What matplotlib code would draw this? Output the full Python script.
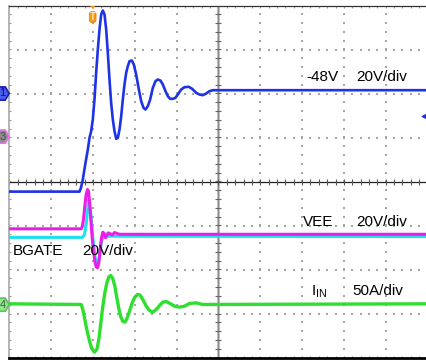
import numpy as np
import matplotlib.pyplot as plt
from matplotlib.patches import Polygon, FancyBboxPatch

plt.rcParams['font.family'] = ['Liberation Sans', 'DejaVu Sans']

# screen is 10 x 8 divisions, y = 0 on the centre line
# CH1 (-48V rail)
ch1_t = [0, 1.675, 1.711, 1.754, 1.818, 1.874, 1.914, 1.954, 1.993, 2.033, 2.073, 2.113,
         2.153, 2.193, 2.233, 2.273, 2.313, 2.352, 2.392, 2.432, 2.472, 2.512, 2.552,
         2.592, 2.632, 2.672, 2.711, 2.751, 2.791, 2.831, 2.871, 2.926, 2.974, 3.030,
         3.094, 3.150, 3.206, 3.254, 3.309, 3.365, 3.429, 3.493, 3.549, 3.612, 3.668,
         3.732, 3.788, 3.844, 3.907, 3.971, 4.027, 4.107, 4.187, 4.290, 4.370, 4.466,
         4.545, 4.625, 4.705, 4.785, 4.864, 4.984, 10]
ch1_v = [-0.23, -0.23, -0.14, 0.045, 0.424, 0.727, 0.992, 1.144, 1.409, 1.864, 2.470, 3.000,
         3.455, 3.795, 3.886, 3.795, 3.455, 2.924, 2.318, 1.788, 1.409, 1.144, 0.970,
         0.992, 1.182, 1.485, 1.864, 2.205, 2.470, 2.621, 2.735, 2.750, 2.659, 2.432,
         2.091, 1.826, 1.674, 1.636, 1.712, 1.864, 2.129, 2.280, 2.318, 2.295, 2.205,
         2.053, 1.939, 1.879, 1.879, 1.902, 1.977, 2.091, 2.144, 2.152, 2.106, 2.015,
         1.977, 1.962, 2.000, 2.053, 2.075, 2.075, 2.075]

# BGATE
ch2_t = [0, 1.746, 1.794, 1.834, 1.866, 1.898, 1.930, 1.962, 1.994, 2.033, 2.073, 2.113,
         2.153, 2.201, 2.249, 10]
ch2_v = [-1.27, -1.27, -1.205, -0.977, -0.674, -0.409, -0.598, -0.939, -1.280, -1.621,
         -1.886, -1.924, -1.697, -1.356, -1.243, -1.25]

# VEE
ch3_t = [0, 1.715, 1.739, 1.770, 1.802, 1.834, 1.866, 1.890, 1.914, 1.946, 1.978, 2.010,
         2.042, 2.073, 2.105, 2.137, 2.169, 2.201, 2.233, 2.265, 2.297, 2.329, 2.360,
         2.409, 2.460, 2.512, 2.630, 10]
ch3_v = [-1.075, -1.075, -1.030, -0.864, -0.561, -0.295, -0.182, -0.220, -0.447, -0.864,
         -1.280, -1.583, -1.811, -1.940, -1.960, -1.848, -1.545, -1.280, -1.152, -1.182,
         -1.280, -1.227, -1.167, -1.189, -1.215, -1.160, -1.20, -1.20]

# IIN
ch4_t = [0, 1.715, 1.754, 1.794, 1.850, 1.914, 1.970, 2.033, 2.089, 2.137, 2.185, 2.233,
         2.281, 2.329, 2.376, 2.424, 2.472, 2.520, 2.568, 2.616, 2.663, 2.711, 2.759,
         2.807, 2.871, 2.935, 2.998, 3.062, 3.126, 3.190, 3.270, 3.349, 3.429, 3.509,
         3.589, 3.668, 3.748, 3.844, 3.947, 4.067, 4.187, 4.306, 4.466, 4.625, 10]
ch4_v = [-2.78, -2.795, -2.909, -3.098, -3.364, -3.629, -3.803, -3.879, -3.818, -3.591,
         -3.212, -2.833, -2.530, -2.303, -2.167, -2.136, -2.212, -2.379, -2.644, -2.894,
         -3.076, -3.174, -3.197, -3.121, -2.947, -2.758, -2.629, -2.568, -2.583, -2.682,
         -2.833, -2.932, -2.970, -2.909, -2.818, -2.742, -2.727, -2.773, -2.833, -2.856,
         -2.833, -2.773, -2.758, -2.795, -2.78]

# ground reference markers on the left edge
ref_levels = {'1': 2.0, '3': 1.02, '4': -2.80}
trig_pos = 1.99
trig_level = 1.48

fig = plt.figure(figsize=(4.27, 3.6), dpi=100)
ax = fig.add_axes([9.5 / 427, 2.5 / 360, 418 / 427, 352 / 360])
ax.set_xlim(0, 10)
ax.set_ylim(-4, 4)
ax.set_xticks([])
ax.set_yticks([])
ax.spines['right'].set_visible(False)
ax.spines['left'].set_color('#a8a8a8')
ax.spines['left'].set_linewidth(1.2)
ax.spines['top'].set_color('#333333')
ax.spines['top'].set_linewidth(0.9)
ax.spines['bottom'].set_color('black')
ax.spines['bottom'].set_linewidth(2)

# dotted graticule
sub = np.arange(0, 10.01, 0.2)
subv = np.arange(-4, 4.01, 0.2)
for gx in range(1, 10):
    if gx == 5:
        continue
    ax.scatter(np.full(len(subv), gx), subv, s=1.0, color='#a6a6a6', marker='s', lw=0, zorder=1)
for gy in range(-3, 4):
    if gy == 0:
        continue
    ax.scatter(sub, np.full(len(sub), gy), s=1.0, color='#a6a6a6', marker='s', lw=0, zorder=1)

# centre axes with minor ticks
ax.axvline(5, color='#c0c0c0', lw=2.2, zorder=1)
ax.axvline(5, color='#808080', lw=0.6, zorder=1)
ax.axhline(0, color='#222222', lw=0.9, zorder=1)
ax.scatter(np.full(len(subv), 5), subv, marker='_', s=22, color='#666666', lw=0.8, zorder=1)
ax.scatter(sub, np.zeros(len(sub)), marker='|', s=22, color='#555555', lw=0.8, zorder=1)
# ticks along the edges
ax.scatter(np.zeros(len(subv)), subv, marker='_', s=10, color='#999999', lw=0.8, zorder=1)
ax.scatter(sub, np.full(len(sub), -4), marker='|', s=10, color='#999999', lw=0.8, zorder=1)
ax.scatter(sub, np.full(len(sub), 4), marker='|', s=10, color='#999999', lw=0.8, zorder=1)

# traces
ax.plot(ch1_t, ch1_v, color='#1e32e6', lw=1.9, zorder=3)
ax.plot(ch2_t, ch2_v, color='#20e0ea', lw=2.2, zorder=3)
ax.plot(ch3_t, ch3_v, color='#ea1eea', lw=2.2, zorder=4)
ax.plot(ch4_t, ch4_v, color='#2ee02e', lw=2.4, zorder=3)

# channel labels
fs = 11
ax.text(7.11, 2.28, '-48V', fontsize=fs, va='baseline')
ax.text(8.30, 2.28, '20V/div', fontsize=fs, va='baseline')
ax.text(7.01, -1.02, 'VEE', fontsize=fs, va='baseline')
ax.text(8.30, -1.02, '20V/div', fontsize=fs, va='baseline')
ax.text(7.22, -2.59, r'$\mathregular{I_{IN}}$', fontsize=fs, va='baseline')
ax.text(8.21, -2.59, '50A/div', fontsize=fs, va='baseline')
ax.text(0.07, -1.66, 'BGATE', fontsize=fs, va='baseline', zorder=5)
ax.text(1.75, -1.66, '20V/div', fontsize=fs, va='baseline', zorder=5)

# left edge reference tags
tag_style = {'1': ('#4a5cf0', '#1a1ab0', '#101060'),
             '3': ('#8c8c8c', '#f070f0', '#505050'),
             '4': ('#8ee88e', '#60c060', '#406040')}
for name, lvl in ref_levels.items():
    face, edge, txt = tag_style[name]
    h = 0.15
    pts = [(-0.32, lvl + h), (-0.1, lvl + h), (-0.01, lvl), (-0.1, lvl - h), (-0.32, lvl - h)]
    ax.add_patch(Polygon(pts, closed=True, facecolor=face, edgecolor=edge, lw=1.2,
                         clip_on=False, zorder=6))
    ax.text(-0.17, lvl, name, fontsize=8, ha='center', va='center', color=txt,
            clip_on=False, zorder=7)

# trigger position marker
ax.add_patch(Polygon([(trig_pos - 0.07, 4.0), (trig_pos + 0.07, 4.0), (trig_pos, 3.92)],
                     closed=True, facecolor='#f59a1a', edgecolor='none', zorder=6))
ax.add_patch(FancyBboxPatch((trig_pos - 0.08, 3.62), 0.16, 0.24,
                            boxstyle='round,pad=0.0,rounding_size=0.05',
                            facecolor='#f59a1a', edgecolor='#e08010', lw=0.6, zorder=6))
ax.text(trig_pos, 3.74, 'T', fontsize=7, ha='center', va='center', color='#ffe2b0',
        fontweight='bold', zorder=7)

# trigger level arrow on the right edge
ax.scatter([9.94], [trig_level], marker='<', s=22, color='#2030e0', zorder=6, clip_on=False)

fig.savefig('out.png', dpi=100)
